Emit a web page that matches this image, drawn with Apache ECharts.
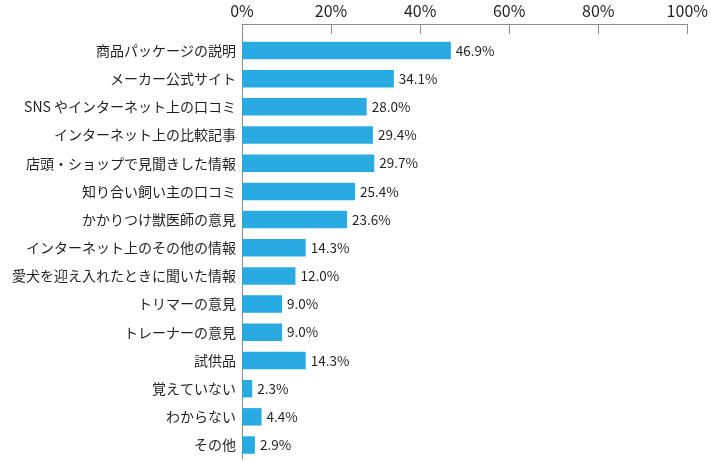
<!DOCTYPE html>
<html>
<head>
<meta charset="utf-8">
<script src="https://cdn.jsdelivr.net/npm/echarts@6/dist/echarts.min.js"></script>
<style>
html,body{margin:0;padding:0;background:#fff;}
#chart{width:711px;height:462px;}
</style>
</head>
<body>
<div id="chart"></div>
<script>
const categories = [
  '商品パッケージの説明',
  'メーカー公式サイト',
  'SNS やインターネット上の口コミ',
  'インターネット上の比較記事',
  '店頭・ショップで見聞きした情報',
  '知り合い飼い主の口コミ',
  'かかりつけ獣医師の意見',
  'インターネット上のその他の情報',
  '愛犬を迎え入れたときに聞いた情報',
  'トリマーの意見',
  'トレーナーの意見',
  '試供品',
  '覚えていない',
  'わからない',
  'その他'
];
const values = [46.9, 34.1, 28.0, 29.4, 29.7, 25.4, 23.6, 14.3, 12.0, 9.0, 9.0, 14.3, 2.3, 4.4, 2.9];
const xTicks = [0, 20, 40, 60, 80, 100];

const font = '"Noto Sans CJK JP", "Noto Sans", sans-serif';
const chart = echarts.init(document.getElementById('chart'), null, {renderer: 'canvas'});
chart.setOption({
  animation: false,
  grid: {left: 242, right: 20, top: 36.4, bottom: 2.9, containLabel: false},
  xAxis: {
    type: 'value',
    position: 'top',
    offset: 12.4,
    min: xTicks[0],
    max: xTicks[xTicks.length - 1],
    interval: xTicks[1] - xTicks[0],
    axisLine: {show: true, lineStyle: {color: '#8c8c8c', width: 1}},
    axisTick: {show: true, inside: true, length: 10, lineStyle: {color: '#8c8c8c'}},
    splitLine: {show: false},
    axisLabel: {formatter: '{value}%', color: '#231f20', fontSize: 16, fontFamily: font, margin: 5}
  },
  yAxis: {
    type: 'category',
    data: categories,
    inverse: true,
    axisLine: {show: true, lineStyle: {color: '#8c8c8c', width: 1}},
    axisTick: {show: false},
    axisLabel: {color: '#231f20', fontSize: 14, fontFamily: font, margin: 6}
  },
  graphic: [{
    type: 'line',
    shape: {x1: 242.5, y1: 24, x2: 242.5, y2: 37},
    style: {stroke: '#8c8c8c', lineWidth: 1}
  }],
  series: [{
    type: 'bar',
    data: values,
    barCategoryGap: '38%',
    itemStyle: {color: '#29abe2'},
    label: {
      show: true,
      position: 'right',
      distance: 5,
      formatter: p => p.value.toFixed(1) + '%',
      color: '#231f20',
      fontSize: 13.5,
      fontFamily: font
    }
  }]
});
</script>
</body>
</html>
